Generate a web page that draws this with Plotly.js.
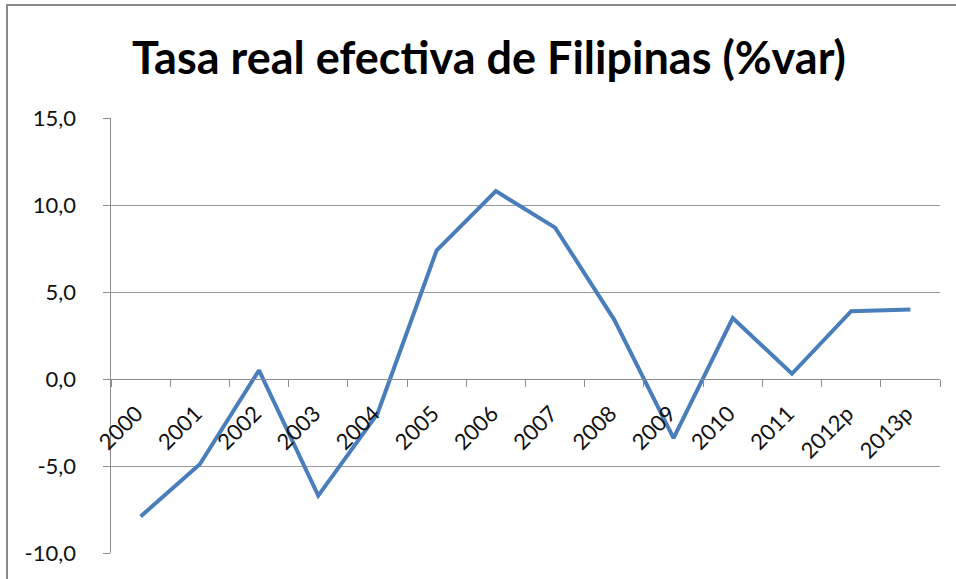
<!DOCTYPE html>
<html>
<head>
<meta charset="utf-8">
<script src="https://cdn.plot.ly/plotly-3.0.1.min.js"></script>
<style>
html,body{margin:0;padding:0;background:#fff;}
#chart{width:956px;height:579px;}
</style>
</head>
<body>
<div id="chart"></div>
<script>
const categories = ["2000","2001","2002","2003","2004","2005","2006","2007","2008","2009","2010","2011","2012p","2013p"];
const values = [-7.9, -4.9, 0.5, -6.7, -2.0, 7.4, 10.8, 8.7, 3.4, -3.4, 3.5, 0.3, 3.9, 4.0];
const yTicks = [-10, -5, 0, 5, 10, 15];
const yTickLabels = ["-10,0", "-5,0", "0,0", "5,0", "10,0", "15,0"];
const titleText = "Tasa real efectiva de Filipinas (%var)";

const L = 111, R = 16, T = 118, B = 26, W = 956, H = 579;
const pw = W - L - R, ph = H - T - B;
const px = v => (v - L) / pw;
const py = v => (H - B - v) / ph;
const pad = '\u00a0\u00a0\u00a0\u00a0';

const trace = {
  x: categories,
  y: values,
  type: 'scatter',
  mode: 'lines',
  line: {color: '#4a7ebb', width: 4},
  hoverinfo: 'x+y'
};

const layout = {
  width: W, height: H,
  margin: {l: L, r: R, t: T, b: B, pad: 0},
  paper_bgcolor: '#ffffff',
  plot_bgcolor: '#ffffff',
  separators: ',.',
  showlegend: false,
  title: {
    text: '<b>' + titleText + '</b>',
    font: {family: 'Lato, sans-serif', size: 45, color: '#000000'},
    x: 489 / W, xanchor: 'center', xref: 'container',
    y: 1 - 58 / H, yanchor: 'middle', yref: 'container'
  },
  xaxis: {
    type: 'category',
    anchor: 'free',
    position: 0.4,
    showline: true, linecolor: '#8c8c8c', linewidth: 1,
    showgrid: false, zeroline: false,
    ticks: 'outside', ticklen: 7, tickcolor: '#8c8c8c', tickwidth: 1,
    tickson: 'boundaries',
    tickangle: -45,
    ticklabelstandoff: 12,
    ticklabelshift: -4,
    tickfont: {family: 'Lato, sans-serif', size: 22, color: '#111111'},
    range: [-0.5, categories.length - 0.5],
    fixedrange: true
  },
  yaxis: {
    range: [-10, 15],
    tickvals: yTicks,
    ticktext: yTickLabels.map(s => s + pad),
    showline: true, linecolor: '#8c8c8c', linewidth: 1,
    showgrid: true, gridcolor: '#9a9a9a', gridwidth: 1,
    zeroline: false,
    ticks: 'outside', ticklen: 7, tickcolor: '#8c8c8c', tickwidth: 1,
    tickfont: {family: 'Lato, sans-serif', size: 22, color: '#111111'},
    fixedrange: true
  },
  shapes: [
    {type: 'line', xref: 'paper', yref: 'paper', x0: px(7), x1: px(7), y0: py(H + 2), y1: py(5), line: {color: '#888888', width: 2}},
    {type: 'line', xref: 'paper', yref: 'paper', x0: px(6), x1: px(W + 2), y0: py(5), y1: py(5), line: {color: '#888888', width: 2}}
  ]
};

Plotly.newPlot('chart', [trace], layout, {displayModeBar: false, staticPlot: true});
</script>
</body>
</html>
